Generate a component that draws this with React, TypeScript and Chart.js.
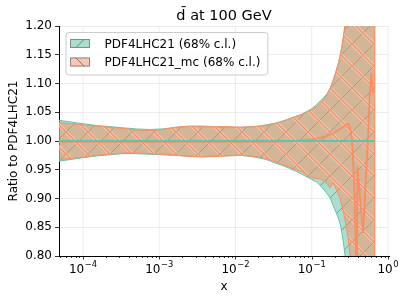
import React, { useEffect, useRef } from 'react';
import { Chart, registerables } from 'chart.js';

Chart.register(...registerables);

const FONT = '"DejaVu Sans", "Liberation Sans", sans-serif';

// ---- data ----
const titleText = 'd\u0304 at 100 GeV';
const xLabel = 'x';
const yLabel = 'Ratio to PDF4LHC21';
const seriesNames = ['PDF4LHC21 (68% c.l.)', 'PDF4LHC21_mc (68% c.l.)'];

const bandX = [4.85e-5, 7e-5, 1e-4, 1.5e-4, 2.2e-4, 3.3e-4, 5e-4, 7.5e-4, 1.1e-3, 1.7e-3, 2.5e-3, 3.7e-3, 5.5e-3, 8e-3, 0.012, 0.018, 0.025, 0.033, 0.042, 0.052, 0.063, 0.075, 0.088, 0.1, 0.115, 0.13, 0.145, 0.16, 0.175, 0.19, 0.205, 0.22, 0.235, 0.25, 0.265, 0.28, 0.3, 0.32, 0.35, 0.4, 0.5, 0.6, 0.67];

const pdfUpper = [1.036, 1.033, 1.030, 1.027, 1.025, 1.023, 1.021, 1.020, 1.021, 1.024, 1.025, 1.025, 1.024, 1.023, 1.024, 1.025, 1.028, 1.031, 1.035, 1.039, 1.043, 1.047, 1.052, 1.056, 1.063, 1.070, 1.076, 1.083, 1.092, 1.105, 1.118, 1.132, 1.147, 1.165, 1.188, 1.215, 1.26, 1.31, 1.40, 1.55, 1.9, 2.3, 2.6];
const pdfLower = [0.965, 0.968, 0.971, 0.974, 0.976, 0.978, 0.978, 0.977, 0.976, 0.975, 0.974, 0.973, 0.974, 0.975, 0.975, 0.972, 0.968, 0.962, 0.957, 0.952, 0.947, 0.942, 0.937, 0.933, 0.929, 0.922, 0.915, 0.908, 0.900, 0.888, 0.878, 0.868, 0.857, 0.838, 0.815, 0.79, 0.75, 0.70, 0.62, 0.5, 0.3, 0.1, 0.0];

const mcUpper = [1.032, 1.030, 1.028, 1.026, 1.024, 1.022, 1.019, 1.018, 1.020, 1.024, 1.026, 1.026, 1.025, 1.025, 1.024, 1.025, 1.027, 1.030, 1.034, 1.039, 1.043, 1.046, 1.050, 1.055, 1.060, 1.066, 1.073, 1.082, 1.092, 1.105, 1.118, 1.132, 1.148, 1.167, 1.19, 1.22, 1.27, 1.33, 1.42, 1.6, 2.0, 2.4, 2.7];
const mcLower = [0.967, 0.970, 0.972, 0.975, 0.977, 0.979, 0.979, 0.978, 0.977, 0.975, 0.973, 0.972, 0.973, 0.974, 0.975, 0.973, 0.970, 0.964, 0.959, 0.954, 0.950, 0.946, 0.940, 0.936, 0.935, 0.934, 0.930, 0.925, 0.918, 0.928, 0.918, 0.908, 0.900, 0.885, 0.872, 0.855, 0.83, 0.80, 0.75, 0.65, 0.4, 0.2, 0.1];

const mcCentralX = [4.85e-5, 0.0316, 0.063, 0.1, 0.126, 0.158, 0.19, 0.224, 0.263, 0.285, 0.3, 0.32, 0.335, 0.35, 0.365, 0.38, 0.39, 0.398, 0.47, 0.521, 0.547, 0.575, 0.605, 0.625, 0.635];
const mcCentral = [0.9985, 0.9985, 1.0005, 1.003, 1.005, 1.009, 1.013, 1.019, 1.025, 1.029, 1.030, 1.022, 1.005, 0.96, 0.90, 0.80, 0.72, 0.955, 0.84, 0.955, 1.007, 1.077, 1.118, 1.094, 1.083];

const pdfCentralX = [4.85e-5, 0.67];
const pdfCentral = [1.0, 1.0];

const xMajorTicks = [1e-4, 1e-3, 1e-2, 1e-1, 1];
const xTickExponents = ['\u22124', '\u22123', '\u22122', '\u22121', '0'];
const yTicksStep = 0.05;

const GREEN = '#66c2a5';
const ORANGE = '#fc8d62';

function pts(xs: number[], ys: number[]) {
  return xs.map((x, i) => ({ x, y: ys[i] }));
}

function makeHatch(fill: string, dir: '/' | '\\', size: number, lines: { color: string; width: number }[]) {
  const c = document.createElement('canvas');
  c.width = size;
  c.height = size;
  const g = c.getContext('2d')!;
  g.fillStyle = fill;
  g.fillRect(0, 0, size, size);
  for (const l of lines) {
    g.strokeStyle = l.color;
    g.lineWidth = l.width;
    for (let k = -1; k <= 1; k++) {
      g.beginPath();
      if (dir === '/') {
        g.moveTo(k * size, size);
        g.lineTo(k * size + size, 0);
      } else {
        g.moveTo(k * size, 0);
        g.lineTo(k * size + size, size);
      }
      g.stroke();
    }
  }
  return g.createPattern(c, 'repeat')!;
}

export default function App() {
  const ref = useRef<HTMLCanvasElement>(null);

  useEffect(() => {
    const canvas = ref.current!;
    const greenPat = makeHatch('rgba(102,194,165,0.55)', '/', 22, [{ color: 'rgba(70,100,80,0.5)', width: 1 }]);
    const orangePat = makeHatch('rgba(252,141,98,0.5)', '\\', 22, [
      { color: 'rgba(255,230,220,0.55)', width: 3.2 },
      { color: 'rgba(252,141,98,1)', width: 1.5 },
    ]);

    const deco = {
      id: 'deco',
      beforeDatasetsDraw(chart: any) {
        const { ctx, chartArea: a } = chart;
        const xs = chart.scales.x;
        ctx.save();
        ctx.strokeStyle = '#e8e8e8';
        ctx.lineWidth = 0.8;
        for (const v of xMajorTicks) {
          const px = xs.getPixelForValue(v);
          if (px < a.left + 1 || px > a.right + 0.5) continue;
          ctx.beginPath();
          ctx.moveTo(px, a.top);
          ctx.lineTo(px, a.bottom);
          ctx.stroke();
        }
        ctx.restore();
      },
      afterDraw(chart: any) {
        const { ctx, chartArea: a } = chart;
        const xs = chart.scales.x;
        ctx.save();
        // x ticks
        ctx.strokeStyle = '#000';
        ctx.lineWidth = 0.8;
        const minX = xs.min, maxX = xs.max;
        for (const v of xMajorTicks) {
          const px = Math.round(xs.getPixelForValue(v)) + 0.5;
          ctx.beginPath();
          ctx.moveTo(px, a.bottom);
          ctx.lineTo(px, a.bottom + 3.5);
          ctx.stroke();
        }
        for (let d = 1e-5; d < 1; d *= 10) {
          for (let m = 2; m <= 9; m++) {
            const v = m * d;
            if (v < minX || v > maxX) continue;
            const px = Math.round(xs.getPixelForValue(v)) + 0.5;
            ctx.beginPath();
            ctx.moveTo(px, a.bottom);
            ctx.lineTo(px, a.bottom + 2);
            ctx.stroke();
          }
        }
        // x tick labels
        ctx.fillStyle = '#000';
        ctx.textBaseline = 'alphabetic';
        ctx.textAlign = 'left';
        xMajorTicks.forEach((v, i) => {
          const px = xs.getPixelForValue(v);
          ctx.font = `12px ${FONT}`;
          const wb = ctx.measureText('10').width;
          ctx.font = `8.4px ${FONT}`;
          const we = ctx.measureText(xTickExponents[i]).width;
          const start = px - (wb + we + 0.5) / 2;
          ctx.font = `12px ${FONT}`;
          ctx.fillText('10', start, 272.5);
          ctx.font = `8.4px ${FONT}`;
          ctx.fillText(xTickExponents[i], start + wb + 0.5, 267);
        });
        // title
        ctx.font = `14.5px ${FONT}`;
        ctx.textAlign = 'center';
        ctx.fillText(titleText, (a.left + a.right) / 2, 19.5);
        // axis labels
        ctx.font = `12px ${FONT}`;
        ctx.fillText(xLabel, (a.left + a.right) / 2, 289.5);
        ctx.save();
        ctx.translate(16.7, (a.top + a.bottom) / 2);
        ctx.rotate(-Math.PI / 2);
        ctx.fillText(yLabel, 0, 0);
        ctx.restore();
        // legend
        ctx.font = `12px ${FONT}`;
        const textX = 104.5;
        const maxW = Math.max(...seriesNames.map((s) => ctx.measureText(s).width));
        const bx = 66, by = 32.5, bw = textX + maxW + 7.5 - bx, bh = 42.5;
        ctx.beginPath();
        ctx.roundRect(bx, by, bw, bh, 3);
        ctx.fillStyle = 'rgba(255,255,255,0.8)';
        ctx.fill();
        ctx.strokeStyle = '#cccccc';
        ctx.lineWidth = 1;
        ctx.stroke();
        const rows = [
          { y: 43.5, fill: 'rgba(102,194,165,0.55)', dir: '/' },
          { y: 62, fill: 'rgba(252,141,98,0.5)', dir: '\\' },
        ];
        rows.forEach((r, i) => {
          const px0 = 70, pw = 20, ph = 9;
          const py0 = r.y - ph / 2;
          ctx.fillStyle = '#fff';
          ctx.fillRect(px0, py0, pw, ph);
          ctx.fillStyle = r.fill;
          ctx.fillRect(px0, py0, pw, ph);
          ctx.strokeStyle = '#777';
          ctx.lineWidth = 1;
          ctx.beginPath();
          const cx = px0 + 10;
          if (r.dir === '/') {
            ctx.moveTo(cx - ph / 2, py0 + ph);
            ctx.lineTo(cx + ph / 2, py0);
          } else {
            ctx.moveTo(cx - ph / 2, py0);
            ctx.lineTo(cx + ph / 2, py0 + ph);
          }
          ctx.stroke();
          ctx.strokeStyle = '#888';
          ctx.strokeRect(px0 + 0.5, py0 + 0.5, pw - 1, ph - 1);
          ctx.fillStyle = '#000';
          ctx.textAlign = 'left';
          ctx.textBaseline = 'alphabetic';
          ctx.fillText(seriesNames[i], textX, r.y + 4.2);
        });
        ctx.restore();
      },
    };

    const base = { pointRadius: 0, pointHoverRadius: 0, tension: 0, clip: 0 };
    const last = bandX.length - 1;

    const chart = new Chart(canvas, {
      type: 'line',
      data: {
        datasets: [
          { ...base, data: pts(bandX, pdfUpper), borderColor: GREEN, borderWidth: 1, backgroundColor: greenPat, fill: '+1', order: 7 },
          { ...base, data: pts(bandX, pdfLower), borderColor: GREEN, borderWidth: 1, fill: false, order: 6 },
          { ...base, data: pts(bandX, mcUpper), borderColor: ORANGE, borderWidth: 1, backgroundColor: orangePat, fill: '+1', order: 5 },
          { ...base, data: pts(bandX, mcLower), borderColor: ORANGE, borderWidth: 1, fill: false, order: 4 },
          { ...base, data: [{ x: bandX[last], y: mcLower[last] }, { x: bandX[last], y: mcUpper[last] }], borderColor: ORANGE, borderWidth: 1.2, fill: false, order: 3 },
          { ...base, data: pts(mcCentralX, mcCentral), borderColor: ORANGE, borderWidth: 1.8, fill: false, order: 2 },
          { ...base, data: pts(pdfCentralX, pdfCentral), borderColor: GREEN, borderWidth: 2, fill: false, order: 1 },
        ],
      } as any,
      options: {
        animation: false,
        responsive: false,
        maintainAspectRatio: false,
        events: [],
        layout: { padding: { top: 26, right: 18, left: 0, bottom: 0 } },
        plugins: { legend: { display: false }, tooltip: { enabled: false }, title: { display: false } },
        scales: {
          x: {
            type: 'logarithmic',
            min: 4.85e-5,
            max: 1.03,
            grid: { display: false },
            border: { display: true, color: '#000', width: 1 },
            ticks: { display: false, autoSkip: false },
            afterFit: (s: any) => { s.height = 44; },
          },
          y: {
            type: 'linear',
            min: 0.8,
            max: 1.2,
            grid: { color: '#e8e8e8', lineWidth: 0.8, drawTicks: true, tickLength: 4, tickColor: '#000', tickWidth: 0.8 },
            border: { display: true, color: '#000', width: 1 },
            ticks: {
              stepSize: yTicksStep,
              padding: 3,
              color: '#000',
              font: { family: FONT, size: 12 },
              callback: (v: any) => Number(v).toFixed(2),
            },
            afterFit: (s: any) => { s.width = 59; },
          },
        },
      } as any,
      plugins: [deco],
    });
    return () => chart.destroy();
  }, []);

  return (
    <div style={{ position: 'absolute', left: 0, top: 0, width: 407, height: 300, background: '#fff' }}>
      <canvas ref={ref} width={407} height={300} style={{ width: 407, height: 300, display: 'block' }} />
    </div>
  );
}
